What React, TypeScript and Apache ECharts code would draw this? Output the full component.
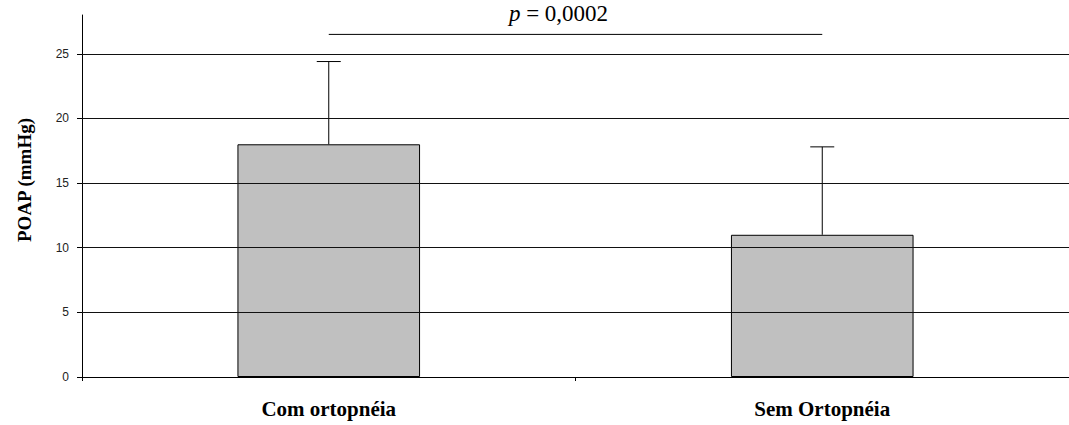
import React, { useEffect, useRef } from "react";
import * as echarts from "echarts";

const categories = ["Com ortopnéia", "Sem Ortopnéia"];
const means = [18, 11];
const sds = [6.4, 6.8];
const yTicks = [0, 5, 10, 15, 20, 25];
const yMax = 28;
const pLevel = 26.5;
const pText = "0,0002";

export default function App() {
  const ref = useRef<HTMLDivElement>(null);
  useEffect(() => {
    if (!ref.current) return;
    const chart = echarts.init(ref.current, null, { renderer: "svg" });
    const serif = "'Liberation Serif', 'Times New Roman', serif";
    chart.setOption({
      animation: false,
      grid: { left: 82, right: 0, top: 15, bottom: 48, containLabel: false },
      xAxis: {
        type: "category",
        data: categories,
        axisLine: { lineStyle: { color: "#000", width: 1 } },
        axisTick: { show: true, length: 4, inside: false, alignWithLabel: false, lineStyle: { color: "#000" } },
        axisLabel: { fontFamily: serif, fontWeight: "bold", fontSize: 21, color: "#000", margin: 21 },
        splitLine: { show: false },
      },
      yAxis: {
        type: "value",
        min: 0,
        max: yMax,
        name: "POAP (mmHg)",
        nameLocation: "middle",
        nameGap: 48,
        nameTextStyle: { fontFamily: serif, fontWeight: "bold", fontSize: 19, color: "#000", padding: [0, 0, 0, 32] },
        axisLine: { show: true, lineStyle: { color: "#000", width: 1 } },
        axisTick: { show: true, length: 5, customValues: yTicks, lineStyle: { color: "#000" } },
        axisLabel: { customValues: yTicks, fontFamily: "'Liberation Sans', Arial, sans-serif", fontSize: 12, color: "#222", margin: 13 },
        splitLine: { show: false },
      },
      series: [
        {
          type: "bar",
          data: means,
          barWidth: "37%",
          itemStyle: { color: "#c0c0c0", borderColor: "#000", borderWidth: 1 },
          silent: true,
          markLine: {
            silent: true,
            symbol: "none",
            label: { show: false },
            lineStyle: { color: "#111", width: 1, type: "solid" },
            data: yTicks.filter((v) => v > 0).map((v) => ({ yAxis: v })),
          },
          z: 3,
        },
        {
          type: "custom",
          data: means.map((m, i) => [i, m, sds[i]]),
          encode: { x: 0, y: 1 },
          z: 4,
          silent: true,
          renderItem: (params: any, api: any) => {
            const x = api.value(0);
            const m = api.value(1);
            const s = api.value(2);
            const p0 = api.coord([x, m]);
            const p1 = api.coord([x, m + s]);
            const half = 12;
            const style = { stroke: "#000", lineWidth: 1 };
            return {
              type: "group",
              children: [
                { type: "line", shape: { x1: p0[0], y1: p0[1], x2: p1[0], y2: p1[1] }, style },
                { type: "line", shape: { x1: p1[0] - half, y1: p1[1], x2: p1[0] + half, y2: p1[1] }, style },
              ],
            };
          },
        },
        {
          type: "custom",
          data: [[0, 1, pLevel]],
          encode: { x: [0, 1], y: 2 },
          z: 4,
          silent: true,
          renderItem: (params: any, api: any) => {
            const a = api.coord([api.value(0), api.value(2)]);
            const b = api.coord([api.value(1), api.value(2)]);
            return {
              type: "group",
              children: [
                { type: "line", shape: { x1: a[0], y1: a[1], x2: b[0], y2: b[1] }, style: { stroke: "#000", lineWidth: 1 } },
                {
                  type: "text",
                  x: (a[0] + b[0]) / 2 - 17,
                  y: a[1] - 9,
                  style: {
                    text: "{i|p} = " + pText,
                    rich: { i: { fontStyle: "italic", fontFamily: serif, fontSize: 23, fill: "#000" } },
                    fontFamily: serif,
                    fontSize: 23,
                    fill: "#000",
                    align: "center",
                    verticalAlign: "bottom",
                  },
                },
              ],
            };
          },
        },
      ],
    });
    return () => chart.dispose();
  }, []);
  return <div ref={ref} style={{ position: "absolute", left: 0, top: 0, width: 1069, height: 425 }} />;
}
